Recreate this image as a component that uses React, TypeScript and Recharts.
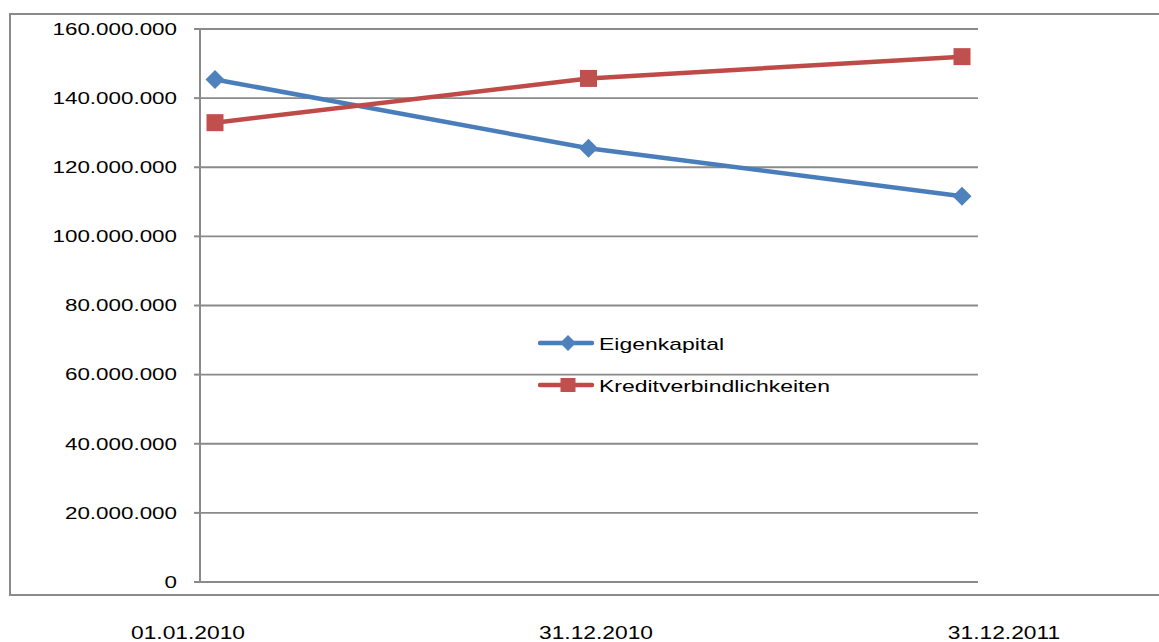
import { LineChart, Line, XAxis, YAxis, CartesianGrid, Legend } from 'recharts'

const periods = ['01.01.2010', '31.12.2010', '31.12.2011']
const eigenkapital = [145400000, 125500000, 111600000]
const kreditverbindlichkeiten = [132900000, 145700000, 152000000]
const yTicks = [0, 20000000, 40000000, 60000000, 80000000, 100000000, 120000000, 140000000, 160000000]

const BLUE_LINE = '#4a7ebb'
const BLUE_MARK = '#4f81bd'
const RED_LINE = '#be4b48'
const RED_MARK = '#c0504d'
const GRID = '#8a8a8a'
const FONT = '"Liberation Sans", Arial, sans-serif'

const data = periods.map((period, i) => ({
  period,
  eigenkapital: eigenkapital[i],
  kredit: kreditverbindlichkeiten[i],
}))

// German thousands separator: 160000000 -> 160.000.000
const fmt = (v: number) => String(v).replace(/\B(?=(\d{3})+(?!\d))/g, '.')

const diamondPath = (cx: number, cy: number, r: number) =>
  `M${cx},${cy - r} L${cx + r},${cy} L${cx},${cy + r} L${cx - r},${cy} Z`

function YTick({ x, y, payload }: any) {
  return (
    <g transform={`translate(${x},${y}) scale(1.4,1)`}>
      <text textAnchor="end" dy="0.36em" fontSize={16} fill="#000" fontFamily={FONT}>
        {fmt(payload.value)}
      </text>
    </g>
  )
}

function XTick({ x, y, payload }: any) {
  return (
    <g transform={`translate(${x},${y}) scale(1.2,1)`}>
      <text textAnchor="middle" dy="0.36em" fontSize={19} fill="#000" fontFamily={FONT}>
        {payload.value}
      </text>
    </g>
  )
}

function LegendBox({ payload }: any) {
  return (
    <div style={{ fontFamily: FONT, fontSize: 17, color: '#000' }}>
      {(payload ?? []).map((e: any) => (
        <div key={e.value} style={{ display: 'flex', alignItems: 'center', height: 42 }}>
          <svg width={61} height={22} style={{ display: 'block' }}>
            <line x1={2} y1={11} x2={54} y2={11} stroke={e.color} strokeWidth={4.5} strokeLinecap="round" />
            {e.dataKey === 'eigenkapital' ? (
              <path d={diamondPath(30, 11, 8)} fill={BLUE_MARK} />
            ) : (
              <rect x={22.5} y={4} width={15} height={14} fill={RED_MARK} />
            )}
          </svg>
          <span
            style={{
              display: 'inline-block',
              transform: 'scaleX(1.35)',
              transformOrigin: 'left center',
              whiteSpace: 'nowrap',
              marginTop: 3,
            }}
          >
            {e.value}
          </span>
        </div>
      ))}
    </div>
  )
}

export default function App() {
  return (
    <div
      style={{
        position: 'fixed',
        left: 0,
        top: 0,
        width: 1159,
        height: 642,
        overflow: 'hidden',
        background: '#fff',
      }}
    >
      {/* chart frame, open to the right */}
      <div
        style={{
          position: 'absolute',
          left: 9,
          top: 13,
          width: 1220,
          height: 583,
          boxSizing: 'border-box',
          border: `2px solid ${GRID}`,
        }}
      />
      <LineChart
        width={1159}
        height={642}
        data={data}
        margin={{ top: 29, right: 181, bottom: 0, left: 0 }}
        style={{ position: 'absolute', left: 0, top: 0 }}
      >
        <CartesianGrid vertical={false} stroke={GRID} strokeWidth={1.8} />
        <XAxis dataKey="period" hide height={0} padding={{ left: 15, right: 16 }} />
        <XAxis
          xAxisId="labels"
          dataKey="period"
          height={60}
          padding={{ left: -12, right: -26 }}
          axisLine={false}
          tickLine={false}
          tickSize={0}
          tickMargin={50}
          interval={0}
          tick={<XTick />}
        />
        <YAxis
          width={200}
          domain={[0, 160000000]}
          ticks={yTicks}
          interval={0}
          tickSize={6}
          tickMargin={17}
          axisLine={{ stroke: GRID, strokeWidth: 2 }}
          tickLine={{ stroke: GRID, strokeWidth: 2 }}
          tick={<YTick />}
        />
        <Legend
          layout="vertical"
          align="center"
          verticalAlign="middle"
          wrapperStyle={{ left: 538, top: 322, width: 340 }}
          content={<LegendBox />}
        />
        <Line
          type="linear"
          dataKey="eigenkapital"
          name="Eigenkapital"
          stroke={BLUE_LINE}
          strokeWidth={4.5}
          isAnimationActive={false}
          activeDot={false}
          dot={(p: any) => <path key={`e-${p.index}`} d={diamondPath(p.cx, p.cy, 9.5)} fill={BLUE_MARK} />}
        />
        <Line
          type="linear"
          dataKey="kredit"
          name="Kreditverbindlichkeiten"
          stroke={RED_LINE}
          strokeWidth={4.5}
          isAnimationActive={false}
          activeDot={false}
          dot={(p: any) => (
            <rect key={`k-${p.index}`} x={p.cx - 8.5} y={p.cy - 8.5} width={17} height={17} fill={RED_MARK} />
          )}
        />
      </LineChart>
    </div>
  )
}
